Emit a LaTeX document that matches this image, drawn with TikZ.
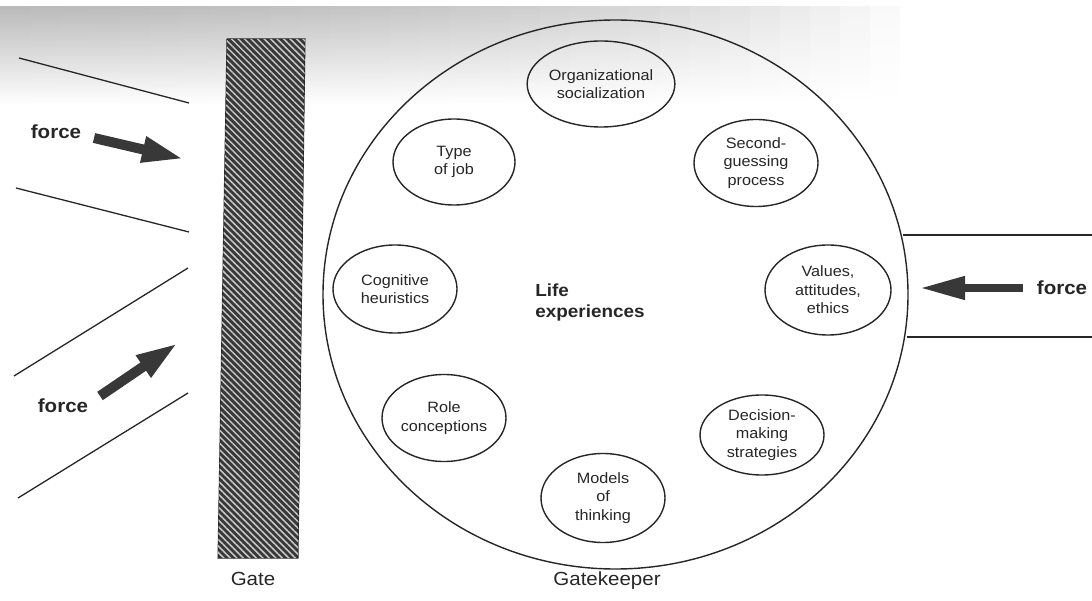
\documentclass[tikz,border=0pt]{standalone}
\usepackage{fontspec}
\setmainfont{Liberation Sans}[FakeStretch=1.08]
\usetikzlibrary{shapes.geometric,arrows.meta,patterns.meta}

\begin{document}
\begin{tikzpicture}[x=1pt,y=-1pt,
  ink/.style={draw=black!85, line width=1.4pt},
  thinline/.style={draw=black!85, line width=1.3pt},
  factor/.style={ellipse, ink, inner sep=0pt, align=center,
    font=\fontsize{15}{18.5}\selectfont, text=black!85},
  forcearrow/.style={draw=black!78, line width=#1, -{Triangle[length=42pt,width=24pt]}},
  forcelbl/.style={font=\bfseries\fontsize{19}{22}\selectfont, text=black!85},
  caption/.style={font=\fontsize{19}{22}\selectfont, text=black!85},
  gatefill/.style={fill=black!78, draw=black!85, line width=1pt},
  gatehatch/.style={pattern={Lines[angle=-45,distance=4.6pt,line width=1.5pt]}, pattern color=black!22},
  scanlayer/.style={top color=black!30, bottom color=white, opacity=0.075}
]
\useasboundingbox (0,0) rectangle (1092,601);

% scanned grey band at top, fading to the right and downwards
\foreach \i in {0,...,29}{
  \shade[scanlayer] (0,7) rectangle (900-\i*30,105);
}

% gate
\coordinate (g1) at (227,39);
\coordinate (g2) at (305,39);
\coordinate (g3) at (298,558);
\coordinate (g4) at (218,558);
\path[gatefill] (g1) -- (g2) -- (g3) -- (g4) -- cycle;
\path[gatehatch] (g1) -- (g2) -- (g3) -- (g4) -- cycle;
\node[caption] (gatelbl) at (253,578.5) {Gate};

% left channel lines
\coordinate (a1) at (19,58);  \coordinate (a2) at (189,103);
\coordinate (b1) at (16,188); \coordinate (b2) at (189,232);
\coordinate (c1) at (14,376); \coordinate (c2) at (188,268);
\coordinate (d1) at (18,498); \coordinate (d2) at (188,393);
\draw[thinline] (a1) -- (a2);
\draw[thinline] (b1) -- (b2);
\draw[thinline] (c1) -- (c2);
\draw[thinline] (d1) -- (d2);

% left forces
\node[forcelbl] (f1) at (56,131.5) {force};
\coordinate (t1) at (94,138); \coordinate (h1) at (184,159);
\draw[forcearrow=10pt] (t1) -- (h1);

\node[forcelbl] (f2) at (63,405.5) {force};
\coordinate (t2) at (100,396); \coordinate (h2) at (178,343);
\draw[forcearrow=10pt] (t2) -- (h2);

% gatekeeper
\node[ellipse, ink, minimum width=585pt, minimum height=549pt, inner sep=0pt] (gk) at (615.5,294.5) {};
\node[caption] (gklbl) at (607,581) {Gatekeeper};

\node[align=left, font=\bfseries\fontsize{17.5}{20.5}\selectfont, text=black!85] (life) at (590,302.5) {Life\\experiences};

\node[factor, minimum width=126pt, minimum height=86pt] (org) at (601,84) {Organizational\\socialization};
\node[factor, minimum width=124pt, minimum height=87pt] (sec) at (756,163) {Second-\\guessing\\process};
\node[factor, minimum width=126pt, minimum height=90pt] (val) at (828,290) {Values,\\attitudes,\\ethics};
\node[factor, minimum width=124pt, minimum height=80pt] (dec) at (762,435) {Decision-\\making\\strategies};
\node[factor, minimum width=124pt, minimum height=89pt] (mod) at (603,498) {Models\\of\\thinking};
\node[factor, minimum width=124pt, minimum height=87pt] (role) at (444,418) {Role\\conceptions};
\node[factor, minimum width=124pt, minimum height=88pt] (cog) at (395,289) {Cognitive\\heuristics};
\node[factor, minimum width=122pt, minimum height=86pt] (typ) at (454,162) {Type\\of job};

% right channel
\coordinate (r1) at (1092,235); \coordinate (r2) at (1092,337);
\coordinate (r1s) at (903,235); \coordinate (r2s) at (907,337);
\draw[thinline] (r1s) -- (r1);
\draw[thinline] (r2s) -- (r2);
\node[forcelbl] (f3) at (1062,288) {force};
\coordinate (t3) at (1023,288); \coordinate (h3) at (920,288);
\draw[draw=black!78, line width=7.5pt, -{Triangle[length=45pt,width=22pt]}] (t3) -- (h3);
\end{tikzpicture}
\end{document}
